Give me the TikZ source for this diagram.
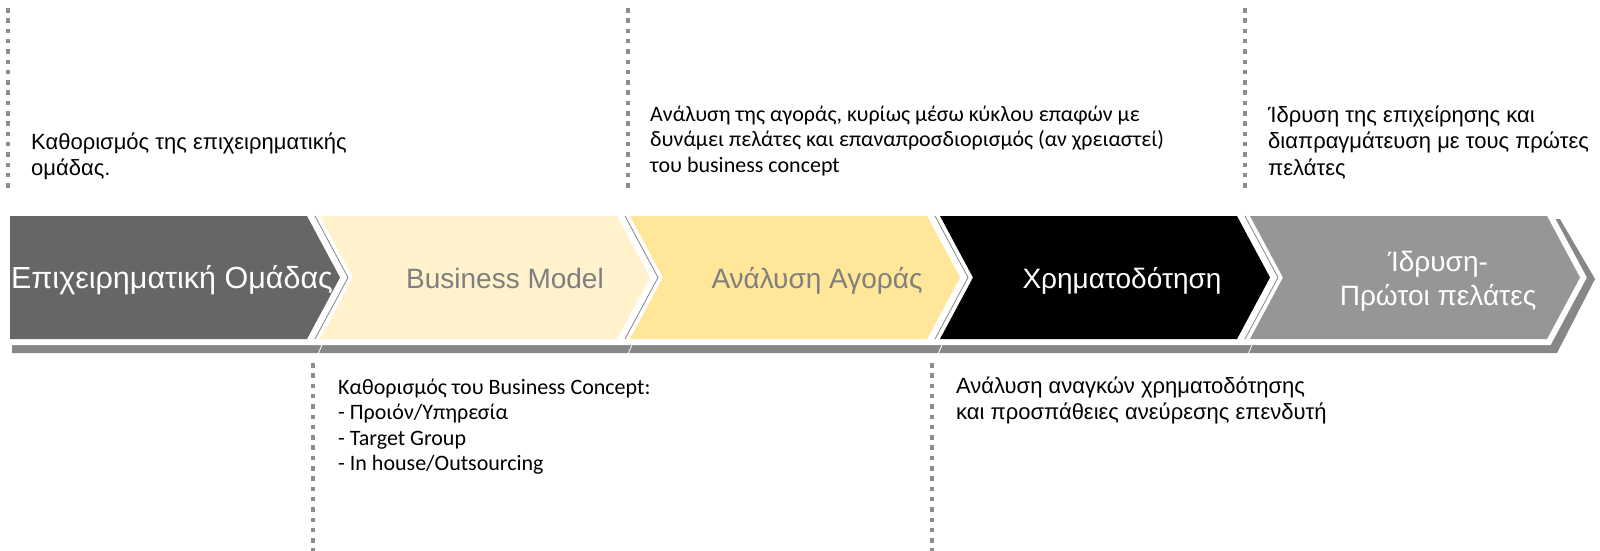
\documentclass[tikz,border=0pt]{standalone}
\usepackage{fontspec}
\setmainfont{Liberation Sans}
\newfontfamily\calibri{Carlito}
\definecolor{teamgray}{HTML}{666666}
\definecolor{modelcream}{HTML}{FFF2CC}
\definecolor{marketyellow}{HTML}{FFE699}
\definecolor{foundgray}{HTML}{969696}
\definecolor{depthgray}{HTML}{878787}
\definecolor{labelgray}{HTML}{7F7F7F}
\definecolor{dotgray}{HTML}{8C8C8C}
\begin{document}
\begin{tikzpicture}[x=1pt,y=-1pt,line join=miter,
	stage/.style={preaction={draw=white,line width=12pt}},
	stagetxt/.style={anchor=base,inner sep=0pt,font=\fontsize{28}{34}\selectfont},
	note/.style={anchor=base west,inner sep=0pt,font=\fontsize{22}{26.5}\selectfont},
	cnote/.style={anchor=base west,inner sep=0pt,font=\calibri\fontsize{22}{25.5}\selectfont},
	dotline/.style={draw=dotgray,line width=4.5pt,dash pattern=on 4.5pt off 5.8pt}]
	\useasboundingbox (0,0) rectangle (1600,550);
	%\draw[step=50,very thin,color=gray] (0,0) grid (1600,550);
	% depth under the whole row
	\fill[depthgray] (12,222) -- (1560,219) -- (1595,279) -- (1557,353) -- (12,353) -- cycle;
	% stages
	\fill[teamgray,stage] (10,216) -- (307,216) -- (340,277.5) -- (307,339) -- (10,339) -- cycle;
	\fill[modelcream,stage] (320,216) -- (617,216) -- (650,277.5) -- (617,339) -- (320,339) -- (353,277.5) -- cycle;
	\fill[marketyellow,stage] (630,216) -- (927,216) -- (960,277.5) -- (927,339) -- (630,339) -- (663,277.5) -- cycle;
	\fill[black,stage] (940,216) -- (1237,216) -- (1270,277.5) -- (1237,339) -- (940,339) -- (973,277.5) -- cycle;
	\fill[foundgray,stage] (1250,216) -- (1547,216) -- (1580,277.5) -- (1547,339) -- (1250,339) -- (1283,277.5) -- cycle;
	\draw[depthgray,line width=0.8pt] (315,216) -- (348,277.5) -- (315,339);
	\draw[depthgray,line width=0.8pt] (625,216) -- (658,277.5) -- (625,339);
	\draw[depthgray,line width=0.8pt] (935,216) -- (968,277.5) -- (935,339);
	\draw[depthgray,line width=0.8pt] (1245,216) -- (1278,277.5) -- (1245,339);
	\draw[white,line width=0.8pt] (322,345) -- (318,354);
	\draw[white,line width=0.8pt] (632,345) -- (628,354);
	\draw[white,line width=0.8pt] (942,345) -- (938,354);
	\draw[white,line width=0.8pt] (1252,345) -- (1248,354);
	\node[stagetxt,white,font=\fontsize{30.5}{34}\selectfont] (team) at (172,288) {Επιχειρηματική Ομάδας};
	\node[stagetxt,labelgray] (model) at (505,288) {Business Model};
	\node[stagetxt,labelgray] (market) at (817,288) {Ανάλυση Αγοράς};
	\node[stagetxt,white] (funding) at (1122,288) {Χρηματοδότηση};
	\node[stagetxt,white] (founding) at (1438,271) {\vtop{\halign{\hfil#\hfil\cr Ίδρυση-\cr Πρώτοι πελάτες\cr}}};
	% dotted markers
	\draw[dotline] (8,8) -- (8,192);
	\draw[dotline] (628,8) -- (628,192);
	\draw[dotline] (1245,8) -- (1245,192);
	\draw[dotline] (313,363) -- (313,552);
	\draw[dotline] (932,363) -- (932,552);
	% notes
	\node[note] (teamnote) at (31,149) {\vtop{\hbox{Καθορισμός της επιχειρηματικής}\hbox{ομάδας.}}};
	\node[cnote] (marketnote) at (650,121) {\vtop{\hbox{Ανάλυση της αγοράς, κυρίως μέσω κύκλου επαφών με}\hbox{δυνάμει πελάτες και επαναπροσδιορισμός (αν χρειαστεί)}\hbox{του business concept}}};
	\node[note] (foundnote) at (1268,122) {\vtop{\hbox{Ίδρυση της επιχείρησης και}\hbox{διαπραγμάτευση με τους πρώτες}\hbox{πελάτες}}};
	\node[cnote] (modelnote) at (338,394) {\vtop{\hbox{Καθορισμός του Business Concept:}\hbox{- Προιόν/Υπηρεσία}\hbox{- Target Group}\hbox{- In house/Outsourcing}}};
	\node[note] (fundnote) at (956,393) {\vtop{\hbox{Ανάλυση αναγκών χρηματοδότησης}\hbox{και προσπάθειες ανεύρεσης επενδυτή}}};
\end{tikzpicture}
\end{document}
